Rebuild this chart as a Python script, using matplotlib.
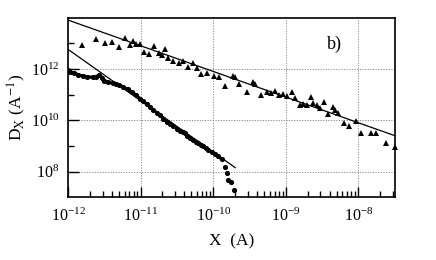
import numpy as np
import matplotlib
matplotlib.use("Agg")
import matplotlib.pyplot as plt
from matplotlib.ticker import LogLocator, NullFormatter, FixedLocator

plt.rcParams['font.family'] = ['Liberation Serif', 'DejaVu Serif']
plt.rcParams['mathtext.fontset'] = 'stix'

# triangles (upper set), values as log10
tri_logx = [-11.807, -11.621, -11.497, -11.394, -11.293, -11.215, -11.153, -11.109,
            -11.063, -11.008, -10.953, -10.880, -10.815, -10.747, -10.701, -10.664,
            -10.616, -10.550, -10.478, -10.416, -10.347, -10.282, -10.227, -10.168,
            -10.085, -9.996, -9.920, -9.831, -9.734, -9.700, -9.640, -9.530,
            -9.456, -9.424, -9.342, -9.266, -9.204, -9.149, -9.094, -9.039,
            -8.983, -8.919, -8.873, -8.804, -8.759, -8.708, -8.657, -8.621,
            -8.574, -8.529, -8.474, -8.419, -8.350, -8.322, -8.277, -8.205,
            -8.125, -8.033, -7.964, -7.831, -7.758, -7.620, -7.492]
tri_logd = [12.934, 13.167, 13.012, 13.051, 12.856, 13.226, 12.934, 13.101,
            12.973, 12.973, 12.681, 12.572, 12.895, 12.642, 12.545, 12.767,
            12.416, 12.311, 12.253, 12.331, 12.097, 12.253, 12.039, 11.805,
            11.864, 11.728, 11.708, 11.339, 11.747, 11.700, 11.416, 11.105,
            11.514, 11.436, 10.988, 11.105, 11.066, 11.163, 10.988, 11.047,
            10.969, 11.117, 10.860, 10.599, 10.638, 10.619, 10.930, 10.689,
            10.599, 10.502, 10.735, 10.268, 10.533, 10.405, 10.300, 9.918,
            9.763, 9.977, 9.510, 9.498, 9.521, 9.109, 8.984]

# dots (lower set), values as log10
dot_logx = [-12.000, -11.972, -11.917, -11.862, -11.798, -11.738, -11.660, -11.614,
            -11.569, -11.532, -11.500, -11.449, -11.384, -11.339, -11.293, -11.242,
            -11.178, -11.118, -11.063, -11.008, -10.967, -10.916, -10.871, -10.825,
            -10.774, -10.733, -10.687, -10.640, -10.595, -10.550, -10.503, -10.457,
            -10.416, -10.388, -10.365, -10.320, -10.274, -10.237, -10.205, -10.168,
            -10.136, -10.099, -10.068, -10.023, -9.975, -9.934, -9.883,
            -9.837, -9.814, -9.792, -9.755, -9.709]
dot_logd = [11.961, 11.883, 11.844, 11.786, 11.728, 11.708, 11.677, 11.708,
            11.767, 11.669, 11.545, 11.494, 11.444, 11.416, 11.377, 11.300,
            11.210, 11.105, 10.988, 10.852, 10.755, 10.638, 10.521, 10.405,
            10.288, 10.210, 10.074, 9.949, 9.860, 9.782, 9.685, 9.607,
            9.568, 9.529, 9.374, 9.296, 9.237, 9.160, 9.109, 9.062,
            9.004, 8.914, 8.848, 8.770, 8.693, 8.595, 8.498,
            8.175, 7.965, 7.681, 7.603, 7.292]
n_dense = 47  # dots that merge into a thick band

# power-law fits: log10 D = a + b*log10 X
fit_upper = (1.907, -1.0)
fit_lower = (-11.233, -2.0)
upper_range = (-12.0, -7.49)
lower_range = (-12.0, -9.696)

tri_x = 10.0 ** np.array(tri_logx)
tri_d = 10.0 ** np.array(tri_logd)
dot_x = 10.0 ** np.array(dot_logx)
dot_d = 10.0 ** np.array(dot_logd)

fig = plt.figure(figsize=(4.36, 2.6), dpi=100)
ax = fig.add_axes([0.156, 0.2435, 0.751, 0.6885])

for (a, b), (l0, l1) in [(fit_upper, upper_range), (fit_lower, lower_range)]:
    lx = np.array([l0, l1])
    ax.plot(10.0 ** lx, 10.0 ** (a + b * lx), color='black', lw=0.9, zorder=3)

ax.plot(dot_x[:n_dense], dot_d[:n_dense], color='black', lw=2.2, zorder=4)
ax.plot(dot_x, dot_d, 'o', color='black', ms=2.7, zorder=4)
ax.plot(tri_x, tri_d, '^', color='black', ms=5, mew=0, zorder=5, clip_on=False)

ax.set_xscale('log')
ax.set_yscale('log')
ax.set_xlim(1e-12, 10 ** -7.49)
ax.set_ylim(10 ** 7.03, 1e14)

ax.xaxis.set_major_locator(FixedLocator([1e-12, 1e-11, 1e-10, 1e-9, 1e-8]))
ax.xaxis.set_minor_locator(LogLocator(base=10, subs=np.arange(2, 10), numticks=20))
ax.xaxis.set_minor_formatter(NullFormatter())
ax.yaxis.set_major_locator(FixedLocator([1e8, 1e10, 1e12]))
ax.yaxis.set_minor_locator(FixedLocator([1e9, 1e11, 1e13]))
ax.yaxis.set_minor_formatter(NullFormatter())

ax.tick_params(which='major', direction='in', length=7, width=1, labelsize=11.5, pad=8)
ax.tick_params(which='minor', direction='in', length=4, width=1)
ax.tick_params(axis='y', which='major', length=8, pad=6)

ax.grid(True, which='major', linestyle=(0, (1.2, 1.5)), color='#888888', lw=0.7)
for s in ax.spines.values():
    s.set_linewidth(1.2)

ax.set_xlabel('X  (A)', fontsize=12.5, labelpad=6)
ax.set_ylabel(r'D$_{\mathrm{X}}$ (A$^{-1}$)', fontsize=12.5, labelpad=2)
ax.text(0.815, 0.853, 'b)', transform=ax.transAxes, fontsize=13, ha='center', va='center')

fig.savefig('out.png', dpi=100)
